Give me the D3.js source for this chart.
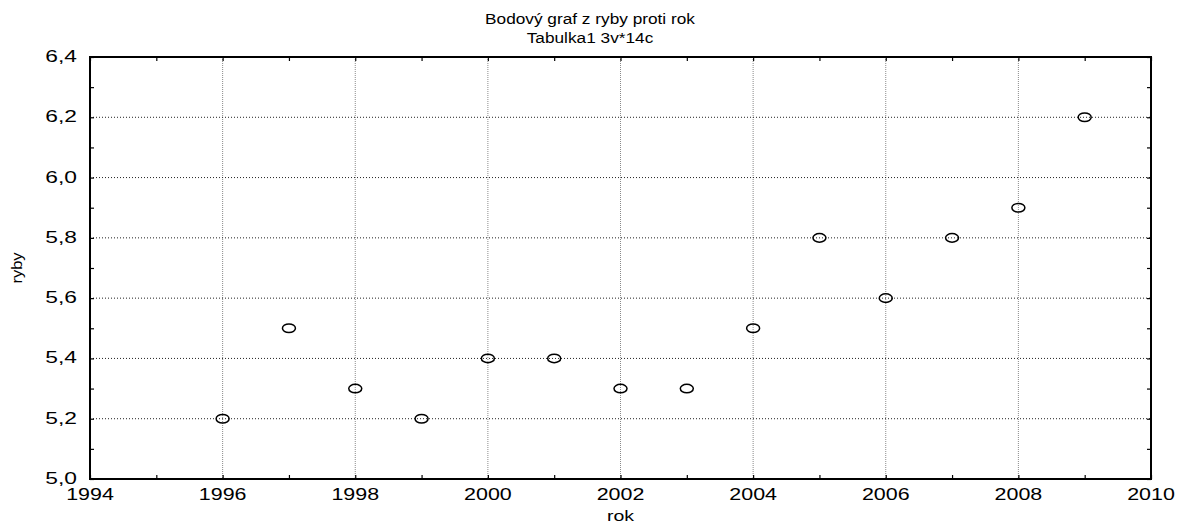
<!DOCTYPE html>
<html>
<head>
<meta charset="utf-8">
<script src="https://cdn.jsdelivr.net/npm/d3@7"></script>
<style>
  html, body { margin: 0; padding: 0; background: #fff; }
  svg { display: block; font-family: "Liberation Sans", Arial, sans-serif; }
</style>
</head>
<body>
<svg id="chart" width="1180" height="524"></svg>
<script>
// Roční hodnoty: rok a ryby
const years = [1996, 1997, 1998, 1999, 2000, 2001, 2002, 2003, 2004, 2005, 2006, 2007, 2008, 2009];
const fish  = [5.2, 5.5, 5.3, 5.2, 5.4, 5.4, 5.3, 5.3, 5.5, 5.8, 5.6, 5.8, 5.9, 6.2];

const xTicks = [1994, 1996, 1998, 2000, 2002, 2004, 2006, 2008, 2010];
const xMinor = [1995, 1997, 1999, 2001, 2003, 2005, 2007, 2009];
const yTicks = [5.0, 5.2, 5.4, 5.6, 5.8, 6.0, 6.2, 6.4];
const yMinor = [5.1, 5.3, 5.5, 5.7, 5.9, 6.1, 6.3];

const titleLines = ["Bodový graf z ryby proti rok", "Tabulka1 3v*14c"];
const xTitle = "rok";
const yTitle = "ryby";

const svg = d3.select("#chart");
const L = 90, R = 1151, T = 57, B = 479;

const x = d3.scaleLinear().domain([1994, 2010]).range([L, R]);
const y = d3.scaleLinear().domain([5.0, 6.4]).range([B, T]);
const fmt = v => d3.format(".1f")(v).replace(".", ",");

// široké písmo: text roztažený vodorovně
const wide = (px, py, sx) => `translate(${px},${py}) scale(${sx},1)`;

// mřížka
svg.append("g").selectAll("line")
  .data(xTicks.slice(1, -1)).join("line")
  .attr("x1", d => x(d)).attr("x2", d => x(d))
  .attr("y1", T).attr("y2", B)
  .attr("stroke", "#8a8a8a").attr("stroke-width", 1)
  .attr("stroke-dasharray", "1,1");

svg.append("g").selectAll("line")
  .data(yTicks.slice(1, -1)).join("line")
  .attr("x1", L).attr("x2", R)
  .attr("y1", d => y(d)).attr("y2", d => y(d))
  .attr("stroke", "#222").attr("stroke-width", 1)
  .attr("stroke-dasharray", "1,2");

// osy s vnitřními značkami
const tickLen = 4;
const allX = xTicks.concat(xMinor);
const allY = yTicks.concat(yMinor);

const axB = svg.append("g").attr("transform", `translate(0,${B})`)
  .call(d3.axisBottom(x).tickValues(allX).tickSize(-tickLen).tickFormat(""));
const axT = svg.append("g").attr("transform", `translate(0,${T})`)
  .call(d3.axisTop(x).tickValues(allX).tickSize(-tickLen).tickFormat(""));
const axL = svg.append("g").attr("transform", `translate(${L},0)`)
  .call(d3.axisLeft(y).tickValues(allY).tickSize(-tickLen).tickFormat(""));
const axR = svg.append("g").attr("transform", `translate(${R},0)`)
  .call(d3.axisRight(y).tickValues(allY).tickSize(-tickLen).tickFormat(""));
[axB, axT, axL, axR].forEach(g => {
  g.select(".domain").remove();
  g.selectAll(".tick line").attr("stroke", "#000").attr("stroke-width", 1.2);
});

// popisky značek
svg.append("g").selectAll("text")
  .data(xTicks).join("text")
  .attr("transform", d => wide(x(d), 500, 1.3))
  .attr("text-anchor", "middle")
  .attr("font-size", 16.5).attr("fill", "#000")
  .text(d => d);

svg.append("g").selectAll("text")
  .data(yTicks).join("text")
  .attr("transform", d => wide(77, y(d) + 5, 1.38))
  .attr("text-anchor", "end")
  .attr("font-size", 16.5).attr("fill", "#000")
  .text(d => fmt(d));

// rámeček grafu
svg.append("rect")
  .attr("x", L).attr("y", T).attr("width", R - L).attr("height", B - T)
  .attr("fill", "none").attr("stroke", "#000").attr("stroke-width", 2);

// body
svg.append("g").selectAll("ellipse")
  .data(years.map((yr, i) => ({ yr, v: fish[i] }))).join("ellipse")
  .attr("cx", d => x(d.yr)).attr("cy", d => y(d.v))
  .attr("rx", 6.5).attr("ry", 4.3)
  .attr("fill", "none").attr("stroke", "#000").attr("stroke-width", 1.5);

// nadpisy
svg.append("g").selectAll("text")
  .data(titleLines).join("text")
  .attr("transform", (d, i) => wide(590, 24 + i * 19, 1.15))
  .attr("text-anchor", "middle")
  .attr("font-size", 15).attr("fill", "#000")
  .text(d => d);

svg.append("text")
  .attr("transform", wide((L + R) / 2, 521, 1.3))
  .attr("text-anchor", "middle")
  .attr("font-size", 15).attr("fill", "#000")
  .text(xTitle);

svg.append("text")
  .attr("transform", `translate(22,${(T + B) / 2}) rotate(-90) scale(1.1,1)`)
  .attr("text-anchor", "middle")
  .attr("font-size", 15).attr("fill", "#000")
  .text(yTitle);
</script>
</body>
</html>
